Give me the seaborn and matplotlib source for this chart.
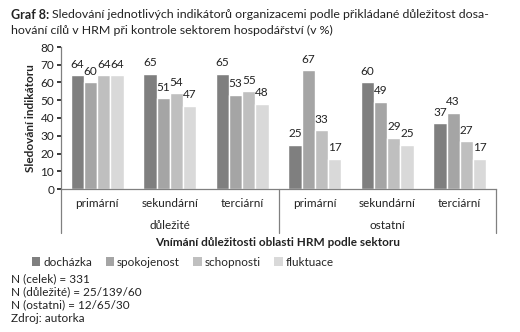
import matplotlib
matplotlib.use("Agg")
import matplotlib.pyplot as plt
import seaborn as sns
import pandas as pd
from matplotlib.patches import Patch
from matplotlib.lines import Line2D

sns.set_theme(style="white")
plt.rcParams['font.family'] = ['Lato', 'DejaVu Sans']

groups = ["důležité", "ostatní"]
sectors = ["primární", "sekundární", "terciární"]
indicators = ["docházka", "spokojenost", "schopnosti", "fluktuace"]
colors = ["#7f7f7f", "#a5a5a5", "#bfbfbf", "#d9d9d9"]

dochazka = [64, 65, 65, 25, 60, 37]
spokojenost = [60, 51, 53, 67, 49, 43]
schopnosti = [64, 54, 55, 33, 29, 27]
fluktuace = [64, 47, 48, 17, 25, 17]

cats = [f"{g}|{s}" for g in groups for s in sectors]
rows = []
for name, vals in zip(indicators, [dochazka, spokojenost, schopnosti, fluktuace]):
    for c, v in zip(cats, vals):
        rows.append({"cat": c, "ind": name, "val": v})
df = pd.DataFrame(rows)

fig = plt.figure(figsize=(5.2, 3.32), dpi=100)
ax = fig.add_axes([61/520, 1-189/332, 435/520, 142/332])
sns.barplot(data=df, x="cat", y="val", hue="ind", order=cats, hue_order=indicators,
            palette=colors, width=0.73, saturation=1, ax=ax, legend=False, errorbar=None)

for cont in ax.containers:
    ax.bar_label(cont, fmt="%d", padding=4, fontsize=8.5, color="#222222")

ax.set_ylim(0, 80)
ax.set_yticks(range(0, 81, 10))
ax.tick_params(axis="y", labelsize=8.5, length=3, left=True, pad=2, colors="#222222")
ax.tick_params(axis="x", bottom=False, labelbottom=False)
ax.set_xlim(-0.5, 5.5)
ax.set_xlabel("")
ax.set_ylabel("Sledování indikátoru", fontsize=8.5, fontweight="bold", labelpad=3)
for s in ["top", "right"]:
    ax.spines[s].set_visible(False)
for s in ["left", "bottom"]:
    ax.spines[s].set_color("#808080")
    ax.spines[s].set_linewidth(0.9)

trans = ax.get_xaxis_transform()
for i, c in enumerate(cats):
    ax.text(i, -0.1, c.split("|")[1], transform=trans, ha="center", va="center",
            fontsize=8.5, color="#222222")
for gi, g in enumerate(groups):
    ax.text(gi*3 + 1, -0.26, g, transform=trans, ha="center", va="center",
            fontsize=8.5, color="#222222")
for xs in [-0.5, 2.5, 5.5]:
    ax.add_line(Line2D([xs, xs], [0, -0.31], transform=trans, color="#808080",
                       lw=0.9, clip_on=False))

fig.text(278/520, 1-243/332, "Vnímání důležitosti oblasti HRM podle sektoru",
         ha="center", va="center", fontsize=8.5, fontweight="bold", color="#222222")

handles = [Patch(facecolor=c, edgecolor="none", label=l) for c, l in zip(colors, indicators)]
fig.legend(handles=handles, ncol=4, loc="center left", bbox_to_anchor=(32/520, 1-262/332),
           frameon=False, fontsize=8.5, handlelength=0.7, handleheight=0.7,
           handletextpad=0.25, columnspacing=1.15, borderaxespad=0, borderpad=0)

t1 = fig.text(11/520, 1-15/332, "Graf 8:", fontsize=9, fontweight="bold",
              va="center", ha="left", color="#222222")
fig.canvas.draw()
bb = t1.get_window_extent()
x2 = (bb.x1 + 3) / fig.bbox.width
fig.text(x2, 1-15/332,
         "Sledování jednotlivých indikátorů organizacemi podle přikládané důležitost dosa-",
         fontsize=8.9, va="center", ha="left", color="#222222")
fig.text(11/520, 1-30/332,
         "hování cílů v HRM při kontrole sektorem hospodářství (v %)",
         fontsize=8.9, va="center", ha="left", color="#222222")

notes = ["N (celek) = 331", "N (důležité) = 25/139/60", "N (ostatni) = 12/65/30", "Zdroj: autorka"]
for k, n in enumerate(notes):
    fig.text(11/520, 1-(279 + 13*k)/332, n, fontsize=8.5, va="center", ha="left",
             color="#222222")

fig.savefig("out.png", dpi=100)
